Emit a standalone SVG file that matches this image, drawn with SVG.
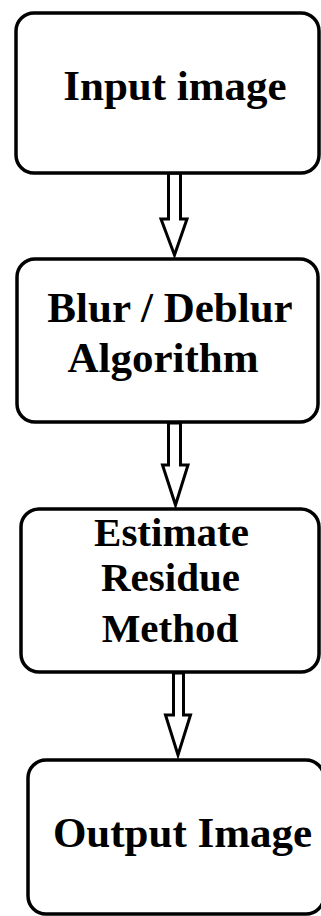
<svg xmlns="http://www.w3.org/2000/svg" width="321" height="916" viewBox="0 0 321 916">
<style>
.box{fill:#fff;stroke:#000;stroke-width:3.5}
.arr{fill:#fff;stroke:#000;stroke-width:3;stroke-linejoin:miter}
.t{font-family:"Liberation Serif","Times New Roman",serif;font-weight:bold;font-size:43px;fill:#000;text-anchor:middle}
.s{font-size:41px}
</style>
<rect width="321" height="916" fill="#fff"/>
<g id="connectors">
<polygon class="arr" points="168.5,173 180.5,173 180.5,219 187,219 174.5,255 161,219 168.5,219"/>
<polygon class="arr" points="168.5,423 180.5,423 180.5,465 188,465 175.5,505 162.5,465 168.5,465"/>
<polygon class="arr" points="173.5,673 183.5,673 183.5,715 190.5,715 178,755 165.5,715 173.5,715"/>
</g>
<g id="node1">
<rect class="box" x="16" y="13" width="303" height="160" rx="18"/>
<text class="t" x="175" y="100">Input image</text>
</g>
<g id="node2">
<rect class="box" x="17" y="259" width="301" height="163" rx="18"/>
<text class="t" x="170" y="322">Blur / Deblur</text>
<text class="t" x="163" y="372">Algorithm</text>
</g>
<g id="node3">
<rect class="box" x="21" y="509" width="298" height="163" rx="18"/>
<text class="t s" x="171.5" y="546">Estimate</text>
<text class="t s" x="170.5" y="591">Residue</text>
<text class="t s" x="170" y="642">Method</text>
</g>
<g id="node4">
<rect class="box" x="28" y="760" width="296" height="154" rx="18"/>
<text class="t" x="182.5" y="847">Output Image</text>
</g>
</svg>
